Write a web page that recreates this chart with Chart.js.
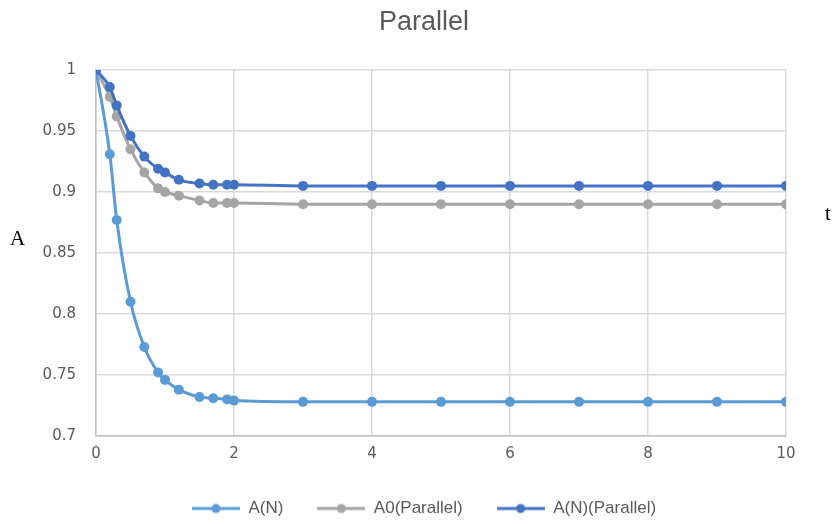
<!DOCTYPE html>
<html>
<head>
<meta charset="utf-8">
<script src="https://cdn.jsdelivr.net/npm/chart.js@4/dist/chart.umd.min.js"></script>
<style>
  html, body { margin: 0; padding: 0; background: #fff; }
  #wrap { width: 833px; height: 524px; }
</style>
</head>
<body>
<div id="wrap"><canvas id="chart1" width="833" height="524"></canvas></div>
<script>
// values
const tValues = [0, 0.2, 0.3, 0.5, 0.7, 0.9, 1.0, 1.2, 1.5, 1.7, 1.9, 2, 3, 4, 5, 6, 7, 8, 9, 10];
const aN = [1, 0.931, 0.877, 0.810, 0.773, 0.752, 0.746, 0.738, 0.732, 0.731, 0.730, 0.729,
  0.728, 0.728, 0.728, 0.728, 0.728, 0.728, 0.728, 0.728];
const a0Parallel = [1, 0.978, 0.962, 0.935, 0.916, 0.903, 0.900, 0.897, 0.893, 0.891, 0.891, 0.891,
  0.890, 0.890, 0.890, 0.890, 0.890, 0.890, 0.890, 0.890];
const aNParallel = [1, 0.986, 0.971, 0.946, 0.929, 0.919, 0.916, 0.910, 0.907, 0.906, 0.906, 0.906,
  0.905, 0.905, 0.905, 0.905, 0.905, 0.905, 0.905, 0.905];
const seriesNames = ['A(N)', 'A0(Parallel)', 'A(N)(Parallel)'];
const seriesColors = ['#5B9BD5', '#A5A5A5', '#4472C4'];

const textColor = '#595959';
const gridColor = '#d9d9d9';

// legend marker: short line with a dot in the middle, like Excel
function legendMarker(color) {
  const c = document.createElement('canvas');
  c.width = 48;
  c.height = 12;
  const g = c.getContext('2d');
  g.strokeStyle = color;
  g.lineWidth = 3;
  g.beginPath();
  g.moveTo(0, 6);
  g.lineTo(48, 6);
  g.stroke();
  g.fillStyle = color;
  g.beginPath();
  g.arc(24, 6, 4.5, 0, Math.PI * 2);
  g.fill();
  return c;
}
const markers = seriesColors.map(legendMarker);

function toPoints(values) {
  return tValues.map((t, i) => ({ x: t, y: values[i] }));
}

function makeDataset(idx, values, order) {
  return {
    label: seriesNames[idx],
    data: toPoints(values),
    borderColor: seriesColors[idx],
    backgroundColor: seriesColors[idx],
    borderWidth: 3,
    pointRadius: 5,
    pointHoverRadius: 5,
    pointBorderWidth: 0,
    cubicInterpolationMode: 'monotone',
    order: order
  };
}

// "A" and "t" axis captions sit outside the plot, as plain text
const axisCaptions = {
  id: 'axisCaptions',
  afterDraw(chart) {
    const ctx = chart.ctx;
    ctx.save();
    ctx.fillStyle = '#000';
    ctx.font = '21px "Liberation Serif", "Times New Roman", serif';
    ctx.textBaseline = 'alphabetic';
    ctx.textAlign = 'left';
    ctx.fillText('A', 10, 245);
    ctx.fillText('t', 825, 220);
    ctx.restore();
  }
};

const ctx = document.getElementById('chart1').getContext('2d');
new Chart(ctx, {
  type: 'line',
  data: {
    datasets: [
      makeDataset(0, aN, 3),
      makeDataset(1, a0Parallel, 2),
      makeDataset(2, aNParallel, 1)
    ]
  },
  options: {
    responsive: false,
    animation: false,
    layout: { padding: { left: 15, right: 0, top: 0, bottom: -3 } },
    plugins: {
      title: {
        display: true,
        text: 'Parallel',
        color: textColor,
        font: { family: '"Liberation Sans", Arial, sans-serif', size: 27, weight: 'normal' },
        padding: { top: 6, bottom: 31.6 }
      },
      legend: {
        position: 'bottom',
        labels: {
          color: textColor,
          font: { family: '"Liberation Sans", Arial, sans-serif', size: 17, lineHeight: 1 },
          usePointStyle: true,
          pointStyleWidth: 48,
          boxHeight: 12,
          padding: 34,
          sort: (a, b) => a.datasetIndex - b.datasetIndex,
          generateLabels(chart) {
            const items = Chart.defaults.plugins.legend.labels.generateLabels(chart);
            items.forEach(it => { it.pointStyle = markers[it.datasetIndex]; });
            return items;
          }
        }
      },
      tooltip: { enabled: false }
    },
    scales: {
      x: {
        type: 'linear',
        min: 0,
        max: 10,
        ticks: {
          stepSize: 2,
          color: textColor,
          padding: 9,
          font: { family: '"DejaVu Sans", sans-serif', size: 15 }
        },
        grid: { color: gridColor, lineWidth: 1.5, drawTicks: false },
        border: { color: '#bfbfbf', width: 1.5 },
        afterFit(scale) { scale.height = 30; }
      },
      y: {
        min: 0.7,
        max: 1,
        ticks: {
          stepSize: 0.05,
          color: textColor,
          padding: 20,
          font: { family: '"DejaVu Sans", sans-serif', size: 15 },
          callback: v => String(+v.toFixed(2))
        },
        grid: { color: gridColor, lineWidth: 1.5, drawTicks: false },
        border: { color: '#bfbfbf', width: 1.5 },
        afterFit(scale) { scale.width = 81; }
      },
      // empty right-hand axis that only reserves the right margin
      yRight: {
        position: 'right',
        min: 0.7,
        max: 1,
        ticks: { display: false },
        grid: { drawOnChartArea: false, drawTicks: false },
        border: { display: false },
        afterFit(scale) { scale.width = 47; }
      }
    }
  },
  plugins: [axisCaptions]
});
</script>
</body>
</html>
